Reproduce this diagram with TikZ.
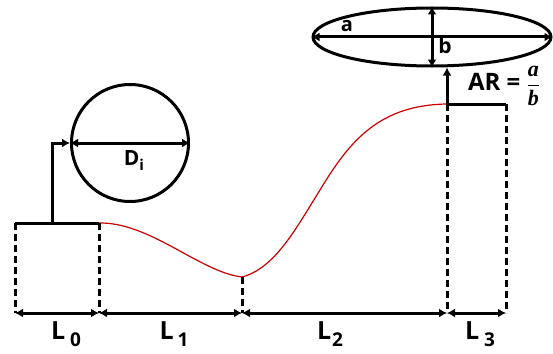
\documentclass[tikz,border=0pt]{standalone}
\usepackage{amsmath,amssymb}
\usepackage{fontspec}
\setmainfont{Open Sans}
\newfontfamily\fracfont{Liberation Serif}
\usetikzlibrary{arrows.meta,shapes.geometric}
\newcommand{\seglabel}[2]{L\hspace{#2}\raisebox{-7pt}{\fontsize{19}{19}\selectfont #1}}

\begin{document}
\begin{tikzpicture}[x=1pt, y=-1pt, >={Latex[length=8pt,width=9pt]}]
        \tikzset{
            wall/.style={line width=3pt},
            guide/.style={line width=3pt, dash pattern=on 7pt off 4pt},
            dimline/.style={line width=3pt, <->},
            lab/.style={inner sep=0pt, font=\bfseries\fontsize{25}{25}\selectfont},
        }
        \useasboundingbox (0,0) rectangle (553,353);

        % inlet section and its diameter
        \coordinate (inL) at (15,223);
        \coordinate (inR) at (99,223);
        \coordinate (stem) at (52,223);
        \node[draw, wall, circle, minimum size=117pt, inner sep=0pt] (inlet) at (130,143) {};
        \draw[wall] (inL) -- (inR);
        \draw[wall, ->] (stem) |- (inlet.west);
        \draw[wall, <->] (inlet.west) -- (inlet.east);
        \node[inner sep=0pt, font=\bfseries\fontsize{21}{21}\selectfont] (dlab) at (134,161) {D\raisebox{-5pt}{\fontsize{15}{15}\selectfont i}};

        % profile of the duct
        \coordinate (throat) at (242,277);
        \coordinate (outL) at (447,104);
        \coordinate (outR) at (506,104);
        \draw[red!80!black, line width=1.2pt] (inR) .. controls (150,222) and (200,272) .. (throat)
            .. controls (275,268) and (295,230) .. (320,190)
            .. controls (350,140) and (380,105) .. (outL);
        \draw[wall] (outL) -- (outR);

        % outlet ellipse
        \node[draw, wall, ellipse, minimum width=238pt, minimum height=58pt, inner sep=0pt] (outlet) at (432,37) {};
        \draw[wall, <->] (outlet.west) -- (outlet.east);
        \draw[wall, <->] (outlet.north) -- (outlet.south);
        \draw[wall, ->] (outL) -- (outL |- outlet.south);
        \node[inner sep=0pt, font=\bfseries\fontsize{20}{20}\selectfont] (alab) at (347,26) {a};
        \node[inner sep=0pt, font=\bfseries\fontsize{21}{21}\selectfont] (blab) at (445,46) {b};
        \node[inner sep=0pt, font=\bfseries\fontsize{24}{24}\selectfont] (ar) at (504,86) {AR = \fontsize{22}{24}\selectfont$\dfrac{\text{\fracfont\bfseries\itshape a}}{\text{\fracfont\bfseries\itshape b}}$};

        % length marks
        \coordinate (m0) at (15,313);
        \coordinate (m1) at (99,313);
        \coordinate (m2) at (242,313);
        \coordinate (m3) at (447,313);
        \coordinate (m4) at (506,313);
        \draw[guide] (inL) -- (m0);
        \draw[guide] (inR) -- (m1);
        \draw[guide] (throat) -- (m2);
        \draw[guide] (outL) -- (m3);
        \draw[guide] (outR) -- (m4);
        \draw[dimline] (m0) -- (m1);
        \draw[dimline] (m1) -- (m2);
        \draw[dimline] (m2) -- (m3);
        \draw[dimline] (m3) -- (m4);

        \node[lab] (l0) at (66,334) {\seglabel{0}{5pt}};
        \node[lab] (l1) at (174,334) {\seglabel{1}{4pt}};
        \node[lab] (l2) at (330,334) {\seglabel{2}{1pt}};
        \node[lab] (l3) at (480,334) {\seglabel{3}{5pt}};
\end{tikzpicture}
\end{document}
